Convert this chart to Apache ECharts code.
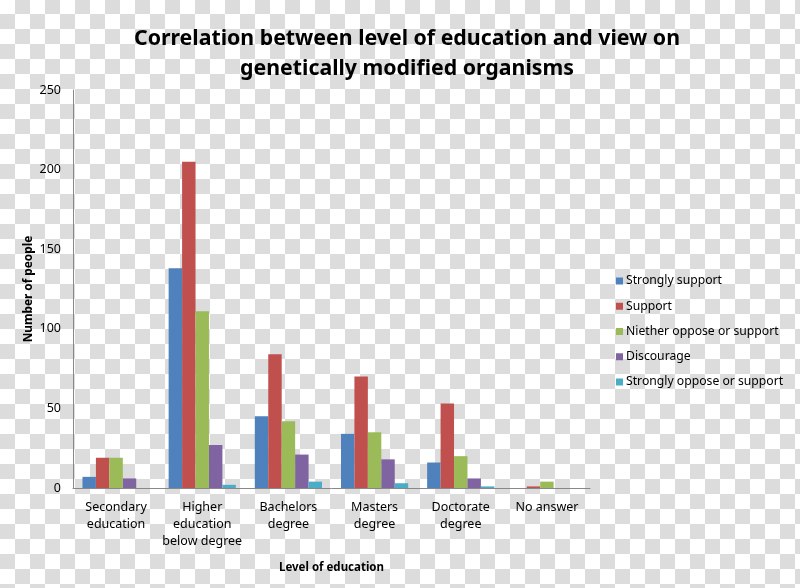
<!DOCTYPE html>
<html><head><meta charset="utf-8">
<script src="https://cdn.jsdelivr.net/npm/echarts@6/dist/echarts.min.js"></script>
<style>
html,body{margin:0;padding:0;}
body{width:800px;height:588px;background-color:#fff;
background-image:conic-gradient(#dcdcdc 0 25%, #fff 0 50%, #dcdcdc 0 75%, #fff 0);
background-size:30px 30px;background-position:0 -1px;}
#c{width:800px;height:588px;}
</style></head>
<body><div id="c"></div>
<script>
const categories = ["Secondary\neducation", "Higher\neducation\nbelow degree", "Bachelors\ndegree", "Masters\ndegree", "Doctorate\ndegree", "No answer"];
const strongSupport = [7, 138, 45, 34, 16, 0];
const support = [19, 205, 84, 70, 53, 1];
const neither = [19, 111, 42, 35, 20, 4];
const discourage = [6, 27, 21, 18, 6, 0];
const strongOppose = [0, 2, 4, 3, 1, 0];
const seriesNames = ["Strongly support", "Support", "Niether oppose or support", "Discourage", "Strongly oppose or support"];
const yTicks = [0, 50, 100, 150, 200, 250];

const colors = ["#4F81BD", "#C0504D", "#9BBB59", "#8064A2", "#4BACC6"];
const font = '"Noto Sans", "Open Sans", sans-serif';
const allData = [strongSupport, support, neither, discourage, strongOppose];

const chart = echarts.init(document.getElementById('c'), null, {renderer: 'canvas'});
chart.setOption({
  backgroundColor: 'transparent',
  animation: false,
  color: colors,
  title: {
    text: 'Correlation between level of education and view on\ngenetically modified organisms',
    left: 402, top: 19, textAlign: 'center',
    textStyle: {fontFamily: font, fontSize: 21.3, fontWeight: 'bold', color: '#000', lineHeight: 30}
  },
  legend: {
    orient: 'vertical', left: 611, top: 270,
    itemWidth: 7, itemHeight: 7, itemGap: 13.25,
    icon: 'rect',
    textStyle: {fontFamily: font, fontSize: 12.2, color: '#000', padding: [0,0,0,-2]},
    data: seriesNames
  },
  grid: {left: 73, right: 210, top: 90, bottom: 100, containLabel: false},
  xAxis: {
    type: 'category', data: categories,
    name: 'Level of education', nameLocation: 'middle', nameGap: 74,
    nameTextStyle: {fontFamily: font, fontSize: 11.5, fontWeight: 'bold', color: '#000'},
    axisLine: {lineStyle: {color: '#888', width: 1}},
    axisTick: {show: false},
    axisLabel: {fontFamily: font, fontSize: 12.5, color: '#000', margin: 11, lineHeight: 17, interval: 0}
  },
  yAxis: {
    type: 'value', min: yTicks[0], max: yTicks[yTicks.length-1], interval: 50,
    name: 'Number of people', nameLocation: 'middle', nameGap: 38, nameRotate: 90,
    nameMoveOverlap: false,
    nameTextStyle: {fontFamily: font, fontSize: 11.8, fontWeight: 'bold', color: '#000'},
    axisLine: {show: true, lineStyle: {color: '#888', width: 1}},
    axisTick: {show: false},
    splitLine: {show: false},
    axisLabel: {fontFamily: font, fontSize: 12.5, color: '#000', margin: 12}
  },
  series: seriesNames.map((n, i) => ({
    name: n, type: 'bar', data: allData[i],
    barGap: '0%', barCategoryGap: '22%',
    itemStyle: {color: colors[i]}
  }))
});
</script>
</body></html>
